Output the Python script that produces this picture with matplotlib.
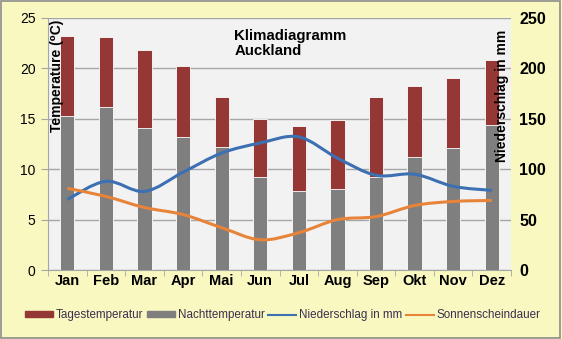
import numpy as np
import matplotlib
matplotlib.use("Agg")
import matplotlib.pyplot as plt
from matplotlib.path import Path
from matplotlib.patches import PathPatch, Rectangle
from matplotlib.lines import Line2D

plt.rcParams['font.family'] = ['Liberation Sans', 'DejaVu Sans']

# Daten (Auckland)
months = ["Jan", "Feb", "Mar", "Apr", "Mai", "Jun", "Jul", "Aug", "Sep", "Okt", "Nov", "Dez"]
tag_temp = [23.2, 23.1, 21.8, 20.2, 17.2, 15.0, 14.3, 14.9, 17.2, 18.3, 19.0, 20.8]
nacht_temp = [15.3, 16.2, 14.1, 13.2, 12.2, 9.2, 7.8, 8.0, 9.2, 11.2, 12.1, 14.4]
niederschlag = [70, 88, 78, 97, 116, 126, 132, 111, 94, 95, 83, 79]
sonne = [81, 73, 62, 55, 42, 30, 37, 50, 53, 64, 68, 69]

c_red = '#953735'
c_gray = '#7f7f7f'
c_blue = '#3d6fb3'
c_orange = '#e8843a'
bg_fig = '#f8f8c0'
bg_ax = '#f2f2f2'


def smooth_path(xs, ys):
    # Excel-artige geglaettete Linie (Catmull-Rom als Bezier)
    pts = np.column_stack([xs, ys]).astype(float)
    n = len(pts)
    verts = [pts[0]]
    codes = [Path.MOVETO]
    for i in range(n - 1):
        p0 = pts[i - 1] if i > 0 else pts[i]
        p1 = pts[i]
        p2 = pts[i + 1]
        p3 = pts[i + 2] if i + 2 < n else pts[i + 1]
        verts += [p1 + (p2 - p0) / 6, p2 - (p3 - p1) / 6, p2]
        codes += [Path.CURVE4] * 3
    return Path(verts, codes)


fig = plt.figure(figsize=(5.62, 3.39), dpi=100, facecolor=bg_fig)
ax = fig.add_axes([0.0854, 0.2035, 0.824, 0.7435])
ax.set_facecolor(bg_ax)
x = np.arange(len(months))

ax.bar(x, tag_temp, width=0.37, color=c_red, edgecolor='white', linewidth=0.6, zorder=2)
ax.bar(x, nacht_temp, width=0.37, color=c_gray, edgecolor='white', linewidth=0.6, zorder=3)

ax.set_xlim(-0.5, 11.5)
ax.set_ylim(0, 25)
ax.set_yticks(np.arange(0, 26, 5))
ax.yaxis.grid(True, color='#a6a6a6', linewidth=1.0, zorder=1)
ax.set_axisbelow(True)
for s in ['top', 'right']:
    ax.spines[s].set_visible(False)
for s in ['left', 'bottom']:
    ax.spines[s].set_color('#a6a6a6')
ax.tick_params(axis='y', length=5, color='#a6a6a6', labelsize=10, pad=4)

ax.set_xticks(x)
ax.set_xticklabels(months, fontweight='bold', fontsize=10.5)
ax.tick_params(axis='x', length=0, pad=3)
ax.set_xticks(np.arange(-0.5, 12, 1), minor=True)
ax.tick_params(axis='x', which='minor', length=4, color='#a6a6a6')

ax2 = ax.twinx()
ax2.set_ylim(0, 250)
ax2.set_yticks(np.arange(0, 251, 50))
ax2.tick_params(axis='y', length=0, labelsize=11.5, pad=6)
for lab in ax2.get_yticklabels():
    lab.set_fontweight('bold')
for s in ax2.spines.values():
    s.set_visible(False)

ax2.add_patch(PathPatch(smooth_path(x, niederschlag), facecolor='none',
                        edgecolor=c_blue, linewidth=2.2, zorder=5))
ax2.add_patch(PathPatch(smooth_path(x, sonne), facecolor='none',
                        edgecolor=c_orange, linewidth=2.2, zorder=5))

ax.text(0.004, 0.995, "Temperature (⁰C)", transform=ax.transAxes, rotation=90,
        ha='left', va='top', fontsize=10, fontweight='bold', zorder=6)
ax.text(0.995, 0.955, "Niederschlag in mm", transform=ax.transAxes, rotation=90,
        ha='right', va='top', fontsize=10, fontweight='bold', zorder=6)
ax.text(0.402, 0.958, "Klimadiagramm\nAuckland", transform=ax.transAxes,
        ha='left', va='top', fontsize=10.8, fontweight='bold', linespacing=1.1, zorder=6)

handles = [
    Rectangle((0, 0), 1, 1, color=c_red),
    Rectangle((0, 0), 1, 1, color=c_gray),
    Line2D([], [], color=c_blue, linewidth=1.5),
    Line2D([], [], color=c_orange, linewidth=1.5),
]
labels = ["Tagestemperatur", "Nachttemperatur", "Niederschlag in mm", "Sonnenscheindauer"]
leg = fig.legend(handles, labels, loc='center', bbox_to_anchor=(0.503, 0.07), ncol=4,
                 frameon=False, fontsize=8.4, handlelength=2.4, handleheight=0.5,
                 handletextpad=0.25, columnspacing=0.3, borderpad=0.2,
                 labelcolor='#3a3050')

fig.patches.append(Rectangle((0.002, 0.003), 0.995, 0.993, transform=fig.transFigure,
                             fill=False, edgecolor='#8c8c8c', linewidth=1.2))

fig.savefig("out.png", dpi=100, facecolor=bg_fig)
